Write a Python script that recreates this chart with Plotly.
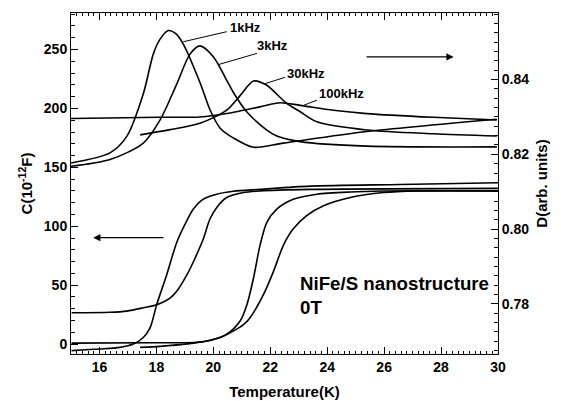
import plotly.graph_objects as go

# ---- Capacitance C (left axis) ----
c1_T = [15.02, 16.02, 16.72, 17.19, 17.54, 17.78, 18.01, 18.36, 18.72, 19.07, 19.30, 19.65, 20.12, 20.70, 21.64, 23.4, 26.56, 30.0]
c1_C = [-5.5, -4.2, -2.8, 0.0, 5.6, 14.0, 33.5, 58.7, 86.7, 104.8, 114.6, 123.0, 127.2, 129.7, 131.3, 134.1, 135.5, 137.0]

c2_T = [15.02, 16.37, 16.96, 17.54, 18.01, 18.48, 18.72, 19.07, 19.30, 19.65, 19.88, 20.12, 20.47, 21.06, 21.64, 23.4, 30.0]
c2_C = [26.6, 27.0, 28.0, 30.8, 33.5, 39.1, 45.0, 58.7, 69.9, 89.4, 106.2, 116.0, 124.4, 128.6, 130.0, 131.3, 132.2]

c3_T = [15.02, 17.78, 19.30, 19.89, 20.47, 20.94, 21.18, 21.41, 21.64, 21.88, 22.23, 22.81, 23.64, 24.81, 25.97, 30.0]
c3_C = [0.8, 1.2, 1.4, 3.1, 8.4, 19.6, 33.5, 55.9, 83.8, 103.4, 114.6, 122.9, 127.2, 129.1, 129.9, 130.0]

c4_T = [17.43, 18.13, 19.30, 20.24, 21.06, 21.29, 21.76, 22.11, 22.46, 22.81, 23.28, 23.87, 24.81, 25.98, 27.15, 30.0]
c4_C = [-2.8, -1.9, 0.8, 5.6, 16.5, 22.4, 41.9, 61.5, 83.8, 97.8, 109.0, 117.4, 124.4, 128.6, 130.0, 130.0]

# ---- Dissipation D (right axis) ----
d1k_T = [15.0, 16.37, 16.96, 17.54, 17.89, 18.13, 18.42, 18.69, 18.95, 19.53, 19.89, 20.24, 20.70, 21.41, 22.46, 25.39, 29.96]
d1k_D = [0.8177, 0.8204, 0.8248, 0.8362, 0.8468, 0.8508, 0.8531, 0.8522, 0.8494, 0.8392, 0.8318, 0.8270, 0.8244, 0.8219, 0.8230, 0.8261, 0.8294]

d3k_T = [15.0, 16.37, 17.54, 18.13, 18.72, 19.18, 19.53, 20.0, 20.47, 20.70, 21.18, 21.88, 22.23, 23.05, 25.39, 29.96]
d3k_D = [0.8168, 0.8186, 0.8230, 0.8292, 0.8389, 0.8468, 0.8490, 0.8461, 0.8398, 0.8366, 0.8313, 0.8265, 0.8249, 0.8234, 0.8222, 0.8220]

d30k_T = [17.43, 18.48, 19.53, 20.47, 20.94, 21.41, 21.85, 22.58, 23.05, 23.64, 25.39, 27.73, 29.96]
d30k_D = [0.8252, 0.8266, 0.8283, 0.8318, 0.8357, 0.8396, 0.8386, 0.8336, 0.8314, 0.8287, 0.8265, 0.8255, 0.8249]

d100k_T = [15.0, 18.13, 19.53, 20.47, 21.06, 21.64, 22.35, 23.05, 24.22, 25.39, 27.73, 29.96]
d100k_D = [0.8296, 0.8299, 0.8300, 0.8309, 0.8318, 0.8327, 0.8338, 0.8331, 0.8318, 0.8309, 0.8299, 0.8292]

labels = ["1kHz", "3kHz", "30kHz", "100kHz"]

FONT = "Liberation Sans, Arial, sans-serif"
LINE = dict(color="black", width=1.6, shape="spline", smoothing=0.8)

fig = go.Figure()
for T, C, nm in [(c1_T, c1_C, "C 1"), (c2_T, c2_C, "C 2"), (c3_T, c3_C, "C 3"), (c4_T, c4_C, "C 4")]:
    fig.add_trace(go.Scatter(x=T, y=C, mode="lines", line=LINE, name=nm, yaxis="y"))
for T, D, nm in [(d1k_T, d1k_D, labels[0]), (d3k_T, d3k_D, labels[1]), (d30k_T, d30k_D, labels[2]), (d100k_T, d100k_D, labels[3])]:
    fig.add_trace(go.Scatter(x=T, y=D, mode="lines", line=LINE, name=nm, yaxis="y2"))

# frequency labels with leader lines (right axis)
lab_pos = [(20.53, 0.8538), (21.47, 0.8490), (22.52, 0.8417), (23.64, 0.8362)]
leaders = [((18.94, 0.8501), (20.47, 0.8528)), ((20.18, 0.8440), (21.53, 0.8470)),
           ((21.82, 0.8389), (22.52, 0.8406)), ((23.17, 0.8331), (23.64, 0.8345))]
annotations = []
shapes = []
for lab, (lx, ly), ((x0, y0), (x1, y1)) in zip(labels, lab_pos, leaders):
    annotations.append(dict(x=lx, y=ly, xref="x", yref="y2", text="<b>%s</b>" % lab, showarrow=False,
                            xanchor="left", yanchor="middle", font=dict(family=FONT, size=13, color="black")))
    shapes.append(dict(type="line", xref="x", yref="y2", x0=x0, y0=y0, x1=x1, y1=y1,
                       line=dict(color="black", width=1)))

# direction arrows
annotations.append(dict(x=28.44, y=243.7, ax=25.33, ay=243.7, xref="x", yref="y", axref="x", ayref="y",
                        text="", showarrow=True, arrowhead=2, arrowsize=1.2, arrowwidth=1.2, arrowcolor="black"))
annotations.append(dict(x=15.78, y=90.3, ax=18.30, ay=90.3, xref="x", yref="y", axref="x", ayref="y",
                        text="", showarrow=True, arrowhead=2, arrowsize=1.2, arrowwidth=1.2, arrowcolor="black"))

annotations.append(dict(x=22.99, y=41.2, xref="x", yref="y", text="<b>NiFe/S nanostructure<br>0T</b>",
                        showarrow=False, xanchor="left", yanchor="middle", align="left",
                        font=dict(family=FONT, size=18.7, color="black")))

axis_common = dict(showgrid=False, zeroline=False, showline=True, linecolor="black", linewidth=1,
                   ticks="inside", tickcolor="black", tickfont=dict(family=FONT, size=14, color="black"))

# the page body has an 8px margin, so the figure is sized to fill the rest of the window
fig.update_layout(
    width=553, height=393,
    margin=dict(l=63, r=63, t=4, b=44),
    paper_bgcolor="white", plot_bgcolor="white",
    showlegend=False,
    font=dict(family=FONT, color="black"),
    xaxis=dict(range=[15, 30], dtick=2, tick0=16, ticklen=7, mirror="ticks",
               minor=dict(dtick=0.2, ticklen=3, ticks="inside", tickcolor="black"),
               title=dict(text="<b>Temperature(K)</b>", font=dict(family=FONT, size=15), standoff=12),
               tickprefix="<b>", ticksuffix="</b>", **axis_common),
    yaxis=dict(range=[-8.4, 281], dtick=50, tick0=0, ticklen=7,
               minor=dict(dtick=10, ticklen=4, ticks="inside", tickcolor="black"),
               title=dict(text="<b>C(10<sup>-12</sup>F)</b>", font=dict(family=FONT, size=15), standoff=7),
               tickprefix="<b>", ticksuffix="</b>", **axis_common),
    yaxis2=dict(range=[0.7666, 0.8578], dtick=0.02, tick0=0.78, ticklen=7, overlaying="y", side="right",
                tickformat=".2f",
                minor=dict(dtick=0.0025, tick0=0.78, ticklen=4, ticks="inside", tickcolor="black"),
                title=dict(text="<b>D(arb. units)</b>", font=dict(family=FONT, size=15), standoff=8),
                tickprefix="<b>", ticksuffix="</b>", **axis_common),
    annotations=annotations,
    shapes=shapes,
)

fig.write_html("out.html")
